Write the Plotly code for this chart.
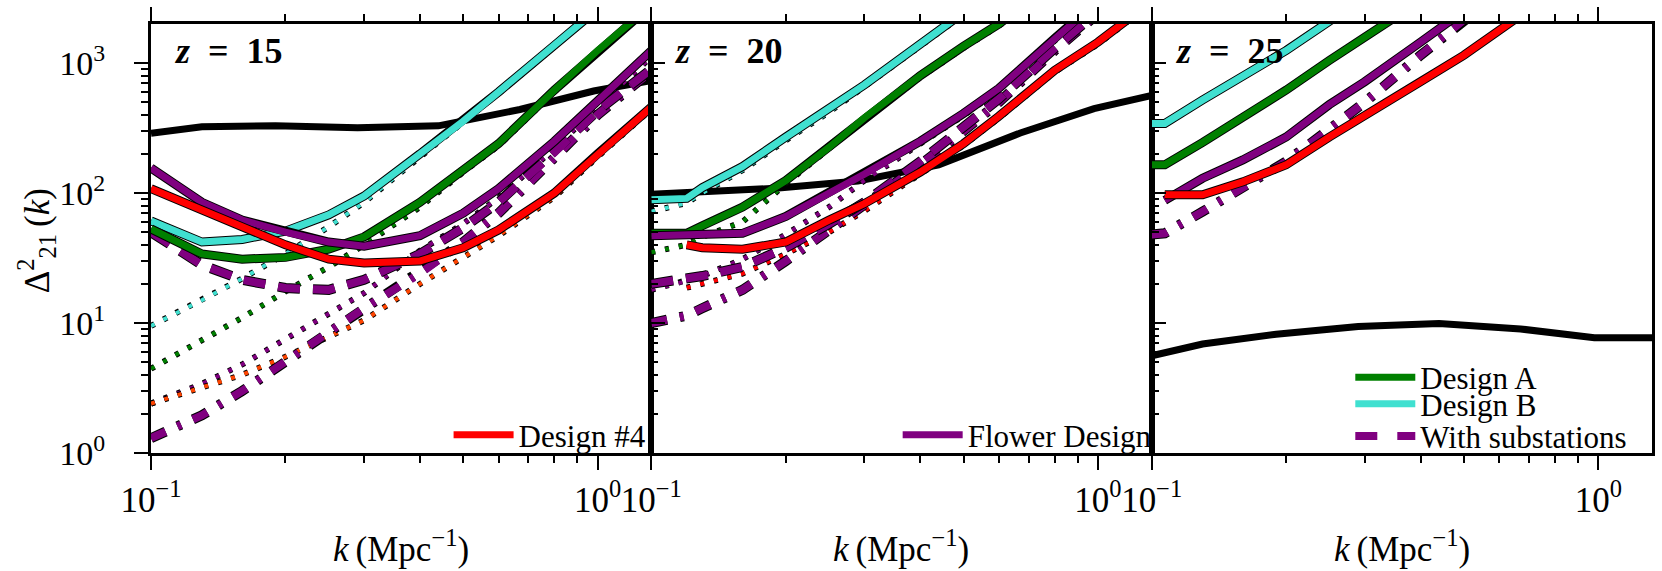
import math
import plotly.graph_objects as go
from plotly.subplots import make_subplots

# ---------------- data ----------------
K_THEORY = [0.1, 0.13, 0.19, 0.29, 0.44, 0.67, 0.98, 1.32]
THEORY_Z15 = [289, 324, 329, 318, 329, 440, 610, 736]
THEORY_Z20 = [98, 103, 109, 124, 165, 290, 446, 565]
THEORY_Z25 = [5.6, 6.9, 8.2, 9.4, 9.9, 9.0, 7.7, 7.7]

# z = 15
K_Z15 = [0.1, 0.13, 0.16, 0.2, 0.25, 0.3, 0.4, 0.5, 0.6, 0.8, 1.0, 1.32]
DESIGN_B_Z15 = [61, 42, 44, 51, 68, 95, 200, 357, 600, 1370, 2600, 5800]
DESIGN_A_Z15 = [53, 34, 31, 32, 37, 46, 85, 150, 240, 620, 1250, 2800]
FLOWER_Z15 = [156, 85, 62, 50, 42, 39, 47, 70, 108, 250, 510, 1250]
DESIGN4_Z15 = [108, 73, 55, 40, 31, 29, 30, 38, 52, 100, 200, 460]
DESIGN_B_OPT_Z15 = [9.5, 15, 22, 34, 55, 85, 190, 345, 585, 1340, 2550, 5700]
DESIGN_A_OPT_Z15 = [4.45, 7.3, 11, 17.5, 27, 40, 78, 145, 232, 600, 1220, 2750]
FLOWER_OPT_Z15 = [2.4, 3.4, 4.8, 7.5, 11.8, 17, 36, 58, 92, 220, 460, 1120]
DESIGN4_OPT_Z15 = [2.4, 3.2, 4.0, 5.5, 7.8, 10.5, 20, 32, 47, 93, 190, 445]
SUBST_Z15 = [50, 28, 21.5, 18.6, 18, 21.5, 34, 54, 85, 205, 430, 900]
SUBST_OPT_Z15 = [1.3, 1.95, 3.0, 5.0, 8.5, 13, 24, 42, 70, 185, 400, 870]

# z = 20
K_Z20 = [0.1, 0.12, 0.13, 0.16, 0.2, 0.25, 0.3, 0.4, 0.5, 0.6, 0.8, 1.0, 1.32]
DESIGN_B_Z20 = [89, 91, 110, 160, 270, 440, 680, 1400, 2500, 4000, 8000, 14000, 28000]
DESIGN_A_Z20 = [49, 49, 56, 78, 125, 225, 380, 800, 1350, 2000, 4200, 7500, 15000]
FLOWER_Z20 = [47, 48, 47, 49, 66, 100, 140, 250, 410, 640, 1550, 3000, 7000]
DESIGN4_Z20 = [None, 40, 38, 37, 42, 62, 83, 145, 240, 390, 880, 1450, 3000]
DESIGN_B_OPT_Z20 = [72, 84, 100, 150, 255, 420, 660, 1360, 2430, 3900, 7800, 13600, 27000]
DESIGN_A_OPT_Z20 = [35, 40, 46, 60, 118, 218, 368, 776, 1310, 1940, 4070, 7270, 14500]
FLOWER_OPT_Z20 = [18, 21, 23, 31, 48, 78, 125, 240, 395, 620, 1500, 2900, 6800]
DESIGN4_OPT_Z20 = [None, 18.7, 20, 24, 34, 50, 73, 140, 233, 378, 855, 1400, 2900]
SUBST_Z20 = [20, 22, 23, 27, 38, 58, 85, 175, 320, 530, 1300, 2600, 5600]
SUBST_OPT_Z20 = [10, 11.4, 13, 18, 30, 52, 80, 165, 300, 500, 1250, 2500, 5400]

# z = 25
K_Z25 = [0.1, 0.107, 0.13, 0.16, 0.2, 0.25, 0.3, 0.4, 0.5, 0.6, 0.8, 1.0, 1.32]
DESIGN_B_Z25 = [343, 343, 520, 800, 1250, 2100, 3300, 6500, 11000, 17000, 33000, 55000, 110000]
DESIGN_A_Z25 = [165, 165, 245, 380, 620, 1050, 1550, 3000, 5000, 8000, 16000, 28000, 55000]
FLOWER_Z25 = [None, 88, 130, 180, 270, 480, 720, 1450, 2600, 4000, 8000, 14000, 28000]
DESIGN4_Z25 = [None, 97, 97, 122, 165, 270, 390, 720, 1150, 1800, 3600, 6000, 12000]
SUBST_Z25 = [48, 49, 72, 109, 175, 310, 500, 1150, 2200, 3600, 7500, 13000, 26000]

REDSHIFTS = ["15", "20", "25"]
X_TICKVALS = [0.1, 1.0]
X_TICKTEXT = ["10<sup>\u22121</sup>", "10<sup>0</sup>"]
Y_TICKVALS = [1, 10, 100, 1000]
Y_TICKTEXT = ["10<sup>0</sup>", "10<sup>1</sup>", "10<sup>2</sup>", "10<sup>3</sup>"]
X_MINOR = [0.2, 0.3, 0.4, 0.5, 0.6, 0.7, 0.8, 0.9]
Y_MINOR = [m * d for d in (1, 10, 100) for m in range(2, 10)]
K_MIN, K_MAX = 0.1, 1.319
D_MIN, D_MAX = 1.0, 2000.0

# ---------------- styling ----------------
FONT = "Liberation Serif"
BLACK = "#000000"
RED = "#FF0000"
GREEN = "#008000"
TURQ = "#40E0D0"
PURPLE = "#800080"
ORANGE = "#FF4500"
DASHED = "22px,13px"
DASHDOT = "16px,13px,4px,13px"
DOTTED = "4px,10px"

fig = make_subplots(rows=1, cols=3, horizontal_spacing=0)


def add_line(col, x, y, color, width, dash="solid", outline=True,
             name=None, legend="legend"):
    if outline:
        fig.add_trace(go.Scatter(x=x, y=y, mode="lines",
                                 line=dict(color=BLACK, width=width + 2, dash=dash),
                                 showlegend=False, hoverinfo="skip"), row=1, col=col)
    fig.add_trace(go.Scatter(x=x, y=y, mode="lines",
                             line=dict(color=color, width=width, dash=dash),
                             name=name, showlegend=name is not None,
                             legend=legend),
                  row=1, col=col)


# ---- panel 1 (z = 15)
add_line(1, K_THEORY, THEORY_Z15, BLACK, 7, outline=False)
add_line(1, K_Z15, DESIGN_B_OPT_Z15, TURQ, 4, DOTTED)
add_line(1, K_Z15, DESIGN_A_OPT_Z15, GREEN, 4, DOTTED)
add_line(1, K_Z15, FLOWER_OPT_Z15, PURPLE, 4, DOTTED)
add_line(1, K_Z15, DESIGN4_OPT_Z15, ORANGE, 4, DOTTED)
add_line(1, K_Z15, SUBST_OPT_Z15, PURPLE, 8, DASHDOT)
add_line(1, K_Z15, SUBST_Z15, PURPLE, 8, DASHED)
add_line(1, K_Z15, DESIGN_B_Z15, TURQ, 7)
add_line(1, K_Z15, DESIGN_A_Z15, GREEN, 7)
add_line(1, K_Z15, FLOWER_Z15, PURPLE, 7)
add_line(1, K_Z15, DESIGN4_Z15, RED, 7, name="Design #4", legend="legend")

# ---- panel 2 (z = 20)
add_line(2, K_THEORY, THEORY_Z20, BLACK, 7, outline=False)
add_line(2, K_Z20, DESIGN_B_OPT_Z20, TURQ, 4, DOTTED)
add_line(2, K_Z20, DESIGN_A_OPT_Z20, GREEN, 4, DOTTED)
add_line(2, K_Z20, FLOWER_OPT_Z20, PURPLE, 4, DOTTED)
add_line(2, K_Z20, DESIGN4_OPT_Z20, RED, 4, DOTTED)
add_line(2, K_Z20, SUBST_OPT_Z20, PURPLE, 8, DASHDOT)
add_line(2, K_Z20, SUBST_Z20, PURPLE, 8, DASHED)
add_line(2, K_Z20, DESIGN_B_Z20, TURQ, 7)
add_line(2, K_Z20, DESIGN_A_Z20, GREEN, 7)
add_line(2, K_Z20, FLOWER_Z20, PURPLE, 7, name="Flower Design", legend="legend2")
add_line(2, K_Z20, DESIGN4_Z20, RED, 7)

# ---- panel 3 (z = 25)
add_line(3, K_THEORY, THEORY_Z25, BLACK, 7, outline=False)
add_line(3, K_Z25, SUBST_Z25, PURPLE, 8, DASHDOT)
add_line(3, K_Z25, DESIGN_B_Z25, TURQ, 7, name="Design B", legend="legend4")
add_line(3, K_Z25, DESIGN_A_Z25, GREEN, 7, name="Design A", legend="legend3")
add_line(3, K_Z25, FLOWER_Z25, PURPLE, 7)
add_line(3, K_Z25, DESIGN4_Z25, RED, 7)
# legend-only entry for the substation line style
fig.add_trace(go.Scatter(x=[None], y=[None], mode="lines",
                         line=dict(color=PURPLE, width=8, dash="22px,20px"),
                         name="With substations", legend="legend5"),
              row=1, col=3)

# ---------------- axes ----------------
xr = [math.log10(K_MIN), math.log10(K_MAX)]
yr = [math.log10(D_MIN), math.log10(D_MAX)]
tickfont = dict(family=FONT, size=34, color=BLACK)
for c in (1, 2, 3):
    fig.update_xaxes(type="log", range=xr, showline=True, linecolor=BLACK, linewidth=3,
                     mirror="ticks", ticks="outside", ticklen=14, tickwidth=2,
                     tickcolor=BLACK, tickmode="array", tickvals=X_TICKVALS,
                     ticktext=X_TICKTEXT, tickfont=dict(family=FONT, size=35, color=BLACK),
                     showgrid=False, zeroline=False,
                     minor=dict(tickmode="array", tickvals=X_MINOR, ticks="outside",
                                ticklen=7, tickwidth=2, tickcolor=BLACK, showgrid=False),
                     row=1, col=c)
    fig.update_yaxes(type="log", range=yr, showline=True, linecolor=BLACK, linewidth=3,
                     mirror=True, ticks="outside" if c == 1 else "inside",
                     ticklen=14, tickwidth=2, tickcolor=BLACK, tickmode="array",
                     tickvals=Y_TICKVALS, ticktext=Y_TICKTEXT, tickfont=tickfont,
                     showticklabels=(c == 1), showgrid=False, zeroline=False,
                     ticklabelstandoff=22,
                     minor=dict(tickmode="array", tickvals=Y_MINOR,
                                ticks="outside" if c == 1 else "inside",
                                ticklen=7, tickwidth=2, tickcolor=BLACK, showgrid=False),
                     row=1, col=c)

# ---------------- annotations ----------------
ann = []
for i, z in enumerate(REDSHIFTS):
    xs = "" if i == 0 else str(i + 1)
    ann.append(dict(text="<b><i>z</i>\u00a0\u00a0=\u00a0\u00a0%s</b>" % z,
                    xref="x%s domain" % xs, yref="y%s domain" % xs,
                    x=0.042, y=0.937, xanchor="left", yanchor="middle",
                    showarrow=False, font=dict(family=FONT, size=36, color=BLACK)))
    ann.append(dict(text="<i>k</i>\u2009(Mpc<sup>\u22121</sup>)", xref="x%s domain" % xs,
                    yref="paper", x=0.5, y=-0.218, xanchor="center", yanchor="middle",
                    showarrow=False, font=dict(family=FONT, size=35, color=BLACK)))
ann.append(dict(text="\u0394<sup>2</sup><sub>21</sub>\u2009(<i>k</i>)", xref="paper",
                yref="paper", x=-0.0765, y=0.494, xanchor="center", yanchor="middle",
                textangle=-90, showarrow=False,
                font=dict(family=FONT, size=35, color=BLACK)))

legfont = dict(family=FONT, size=31, color=BLACK)
leg_common = dict(bgcolor="rgba(0,0,0,0)", borderwidth=0, font=legfont,
                  yanchor="middle", itemwidth=60, tracegroupgap=0)

fig.update_layout(
    width=1662, height=571, autosize=False,
    margin=dict(l=151, r=7, t=22, b=118),
    paper_bgcolor="white", plot_bgcolor="white",
    font=dict(family=FONT, color=BLACK),
    annotations=ann,
    legend=dict(x=0.3335, xanchor="right", y=0.042, **leg_common),
    legend2=dict(x=0.6700, xanchor="right", y=0.042, **leg_common),
    legend3=dict(x=0.799, xanchor="left", y=0.176, **leg_common),
    legend4=dict(x=0.799, xanchor="left", y=0.114, **leg_common),
    legend5=dict(x=0.799, xanchor="left", y=0.039, **leg_common),
)

fig.write_html("out.html")
